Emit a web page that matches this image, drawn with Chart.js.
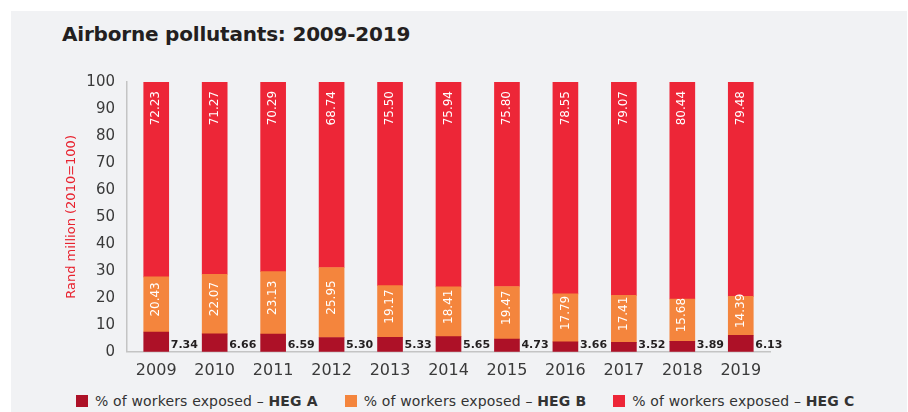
<!DOCTYPE html>
<html>
<head>
<meta charset="utf-8">
<script src="https://cdn.jsdelivr.net/npm/chart.js@4/dist/chart.umd.min.js"></script>
<style>
  html, body { margin: 0; padding: 0; background: #ffffff; }
  body { width: 908px; height: 412px; position: relative; overflow: hidden; font-family: 'DejaVu Sans', sans-serif; }
  #panel { position: absolute; left: 11px; top: 11px; width: 896px; height: 401px; background: #f1f2f4; }
  #title { position: absolute; left: 51px; top: 11px; font-size: 20px; font-weight: bold; color: #231f20; letter-spacing: -0.2px; }
  #wrap { position: absolute; left: 0; top: 0; width: 896px; height: 378px; }
  #legend { position: absolute; left: 65px; top: 382px; display: flex; font-size: 14px; color: #333; letter-spacing: 0.15px; }
  .item { display: flex; align-items: center; margin-right: 27px; white-space: nowrap; }
  .box { width: 12px; height: 12px; margin-right: 7px; }
</style>
</head>
<body>
<div id="panel">
  <div id="title">Airborne pollutants: 2009-2019</div>
  <div id="wrap"><canvas id="chart"></canvas></div>
  <div id="legend"></div>
</div>
<script>
// Data
const years = ['2009', '2010', '2011', '2012', '2013', '2014', '2015', '2016', '2017', '2018', '2019'];
const hegA = [7.34, 6.66, 6.59, 5.30, 5.33, 5.65, 4.73, 3.66, 3.52, 3.89, 6.13];
const hegB = [20.43, 22.07, 23.13, 25.95, 19.17, 18.41, 19.47, 17.79, 17.41, 15.68, 14.39];
const hegC = [72.23, 71.27, 70.29, 68.74, 75.50, 75.94, 75.80, 78.55, 79.07, 80.44, 79.48];
const yTicks = [0, 10, 20, 30, 40, 50, 60, 70, 80, 90, 100];

const seriesNames = ['HEG A', 'HEG B', 'HEG C'];
const colors = ['#ad1127', '#f4853d', '#ed2637'];

// draws the value labels next to / inside the bars
const valueLabels = {
  id: 'valueLabels',
  afterDatasetsDraw(chart) {
    const ctx = chart.ctx;
    ctx.save();
    chart.data.datasets.forEach((ds, di) => {
      const meta = chart.getDatasetMeta(di);
      meta.data.forEach((bar, i) => {
        const txt = ds.data[i].toFixed(2);
        if (di === 0) {
          ctx.font = 'bold 11px "DejaVu Sans"';
          ctx.fillStyle = '#231f20';
          ctx.textAlign = 'left';
          ctx.textBaseline = 'bottom';
          ctx.fillText(txt, bar.x + bar.width / 2 + 2, bar.base - 1);
        } else {
          ctx.font = '12px "DejaVu Sans"';
          ctx.fillStyle = '#ffffff';
          ctx.save();
          let y;
          if (di === 2) {
            y = bar.y + 9;
            ctx.translate(bar.x, y);
            ctx.rotate(-Math.PI / 2);
            ctx.textAlign = 'right';
          } else {
            y = (bar.y + bar.base) / 2 - 5;
            ctx.translate(bar.x, y);
            ctx.rotate(-Math.PI / 2);
            ctx.textAlign = 'center';
          }
          ctx.textBaseline = 'middle';
          ctx.fillText(txt, 0, 0);
          ctx.restore();
        }
      });
    });
    ctx.restore();
  }
};

const chart = new Chart(document.getElementById('chart'), {
  type: 'bar',
  data: {
    labels: years,
    datasets: [hegA, hegB, hegC].map((d, i) => ({
      label: '% of workers exposed – ' + seriesNames[i],
      data: d,
      backgroundColor: colors[i],
      barThickness: 25,
      borderWidth: 0
    }))
  },
  options: {
    responsive: true,
    maintainAspectRatio: false,
    animation: false,
    layout: { padding: { left: 49, right: 137, top: 71, bottom: 0 } },
    plugins: {
      legend: { display: false },
      tooltip: { enabled: false }
    },
    scales: {
      x: {
        stacked: true,
        grid: { display: false, drawTicks: false },
        border: { display: true, color: '#c4c4c4', width: 1.5 },
        ticks: { color: '#3a3a3a', font: { family: 'DejaVu Sans', size: 16 }, padding: 9 }
      },
      y: {
        stacked: true,
        min: 0,
        max: 100,
        afterFit: (scale) => { scale.width = 67; },
        afterBuildTicks: (scale) => { scale.ticks = yTicks.map(v => ({ value: v })); },
        grid: { display: false, drawTicks: false },
        border: { display: true, color: '#c4c4c4', width: 1.5 },
        ticks: { color: '#3a3a3a', font: { family: 'DejaVu Sans', size: 15 }, padding: 12 },
        title: {
          display: true,
          text: 'Rand million (2010=100)',
          color: '#e8232f',
          font: { family: 'DejaVu Sans', size: 13, weight: '500' },
          padding: { top: 4, bottom: 0 }
        }
      }
    }
  },
  plugins: [valueLabels]
});

// HTML legend with the bold series name
const legend = document.getElementById('legend');
chart.data.datasets.forEach((ds, i) => {
  const item = document.createElement('div');
  item.className = 'item';
  item.innerHTML = '<div class="box" style="background:' + colors[i] + '"></div>' +
    '<span>% of workers exposed – <b>' + seriesNames[i] + '</b></span>';
  legend.appendChild(item);
});
</script>
</body>
</html>
